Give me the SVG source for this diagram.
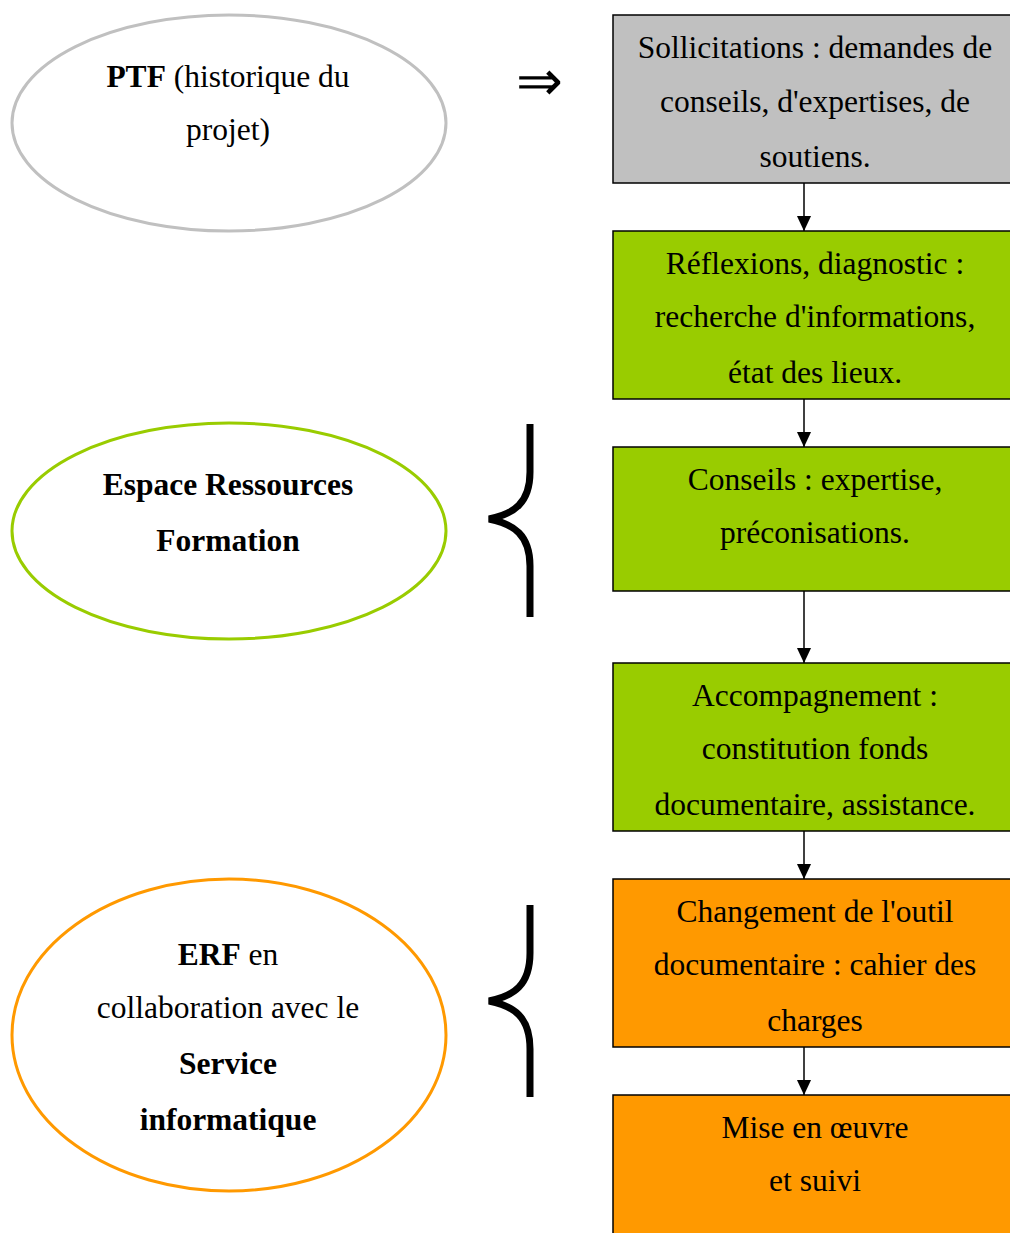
<svg xmlns="http://www.w3.org/2000/svg" width="1010" height="1233" viewBox="0 0 1010 1233">
<defs>
<style>
.t{font-family:"Liberation Serif","Times New Roman",serif;font-size:31.5px;fill:#000;text-anchor:middle}
.b{font-weight:bold}
.box{stroke:#000;stroke-width:1.5}
.ell{fill:#fff;stroke-width:3}
.con{stroke:#000;stroke-width:1.5;fill:none}
.brace{fill:none;stroke:#000;stroke-width:7}
</style>
<marker id="arr" markerWidth="15" markerHeight="16" refX="16" refY="7.5" orient="auto" markerUnits="userSpaceOnUse" viewBox="0 0 16 15">
<path d="M0,0 L16,7.5 L0,15 Z" fill="#000"/>
</marker>
</defs>
<rect width="1010" height="1233" fill="#fff"/>

<g id="connectors">
<line class="con" x1="804" y1="183" x2="804" y2="231" marker-end="url(#arr)"/>
<line class="con" x1="804" y1="399" x2="804" y2="447" marker-end="url(#arr)"/>
<line class="con" x1="804" y1="591" x2="804" y2="663" marker-end="url(#arr)"/>
<line class="con" x1="804" y1="831" x2="804" y2="879" marker-end="url(#arr)"/>
<line class="con" x1="804" y1="1047" x2="804" y2="1095" marker-end="url(#arr)"/>
</g>

<g id="ptf">
<ellipse class="ell" cx="229" cy="123" rx="217" ry="108" stroke="#c0c0c0"/>
<text class="t" x="228" y="87"><tspan class="b">PTF</tspan> (historique du</text>
<text class="t" x="228" y="140">projet)</text>
</g>

<g id="implies">
<text x="539" y="100" font-family="DejaVu Sans, sans-serif" font-weight="200" font-size="56" text-anchor="middle">⇒</text>
</g>

<g id="erf1">
<ellipse class="ell" cx="229" cy="531" rx="217" ry="108" stroke="#99cc00"/>
<text class="t b" x="228" y="495">Espace Ressources</text>
<text class="t b" x="228" y="551">Formation</text>
</g>

<g id="brace1">
<path class="brace" d="M530,424 L530,472 C530,503 514,514 489,519 C514,524 530,535 530,566 L530,617"/>
</g>

<g id="erf2">
<ellipse class="ell" cx="229" cy="1035" rx="217" ry="156" stroke="#ff9900"/>
<text class="t" x="228" y="965"><tspan class="b">ERF</tspan> en</text>
<text class="t" x="228" y="1018">collaboration avec le</text>
<text class="t b" x="228" y="1074">Service</text>
<text class="t b" x="228" y="1130">informatique</text>
</g>

<g id="brace2">
<path class="brace" d="M530,905 L530,953 C530,985 514,996 489,1001 C514,1006 530,1017 530,1049 L530,1097"/>
</g>

<g id="box1">
<rect class="box" x="613" y="15" width="404" height="168" fill="#c0c0c0"/>
<text class="t" x="815" y="58">Sollicitations : demandes de</text>
<text class="t" x="815" y="112">conseils, d'expertises, de</text>
<text class="t" x="815" y="167">soutiens.</text>
</g>

<g id="box2">
<rect class="box" x="613" y="231" width="404" height="168" fill="#99cc00"/>
<text class="t" x="815" y="274">Réflexions, diagnostic :</text>
<text class="t" x="815" y="327">recherche d'informations,</text>
<text class="t" x="815" y="383">état des lieux.</text>
</g>

<g id="box3">
<rect class="box" x="613" y="447" width="404" height="144" fill="#99cc00"/>
<text class="t" x="815" y="490">Conseils : expertise,</text>
<text class="t" x="815" y="543">préconisations.</text>
</g>

<g id="box4">
<rect class="box" x="613" y="663" width="404" height="168" fill="#99cc00"/>
<text class="t" x="815" y="706">Accompagnement :</text>
<text class="t" x="815" y="759">constitution fonds</text>
<text class="t" x="815" y="815">documentaire, assistance.</text>
</g>

<g id="box5">
<rect class="box" x="613" y="879" width="404" height="168" fill="#ff9900"/>
<text class="t" x="815" y="922">Changement de l'outil</text>
<text class="t" x="815" y="975">documentaire : cahier des</text>
<text class="t" x="815" y="1031">charges</text>
</g>

<g id="box6">
<rect class="box" x="613" y="1095" width="404" height="160" fill="#ff9900"/>
<text class="t" x="815" y="1138">Mise en œuvre</text>
<text class="t" x="815" y="1191">et suivi</text>
</g>
</svg>
